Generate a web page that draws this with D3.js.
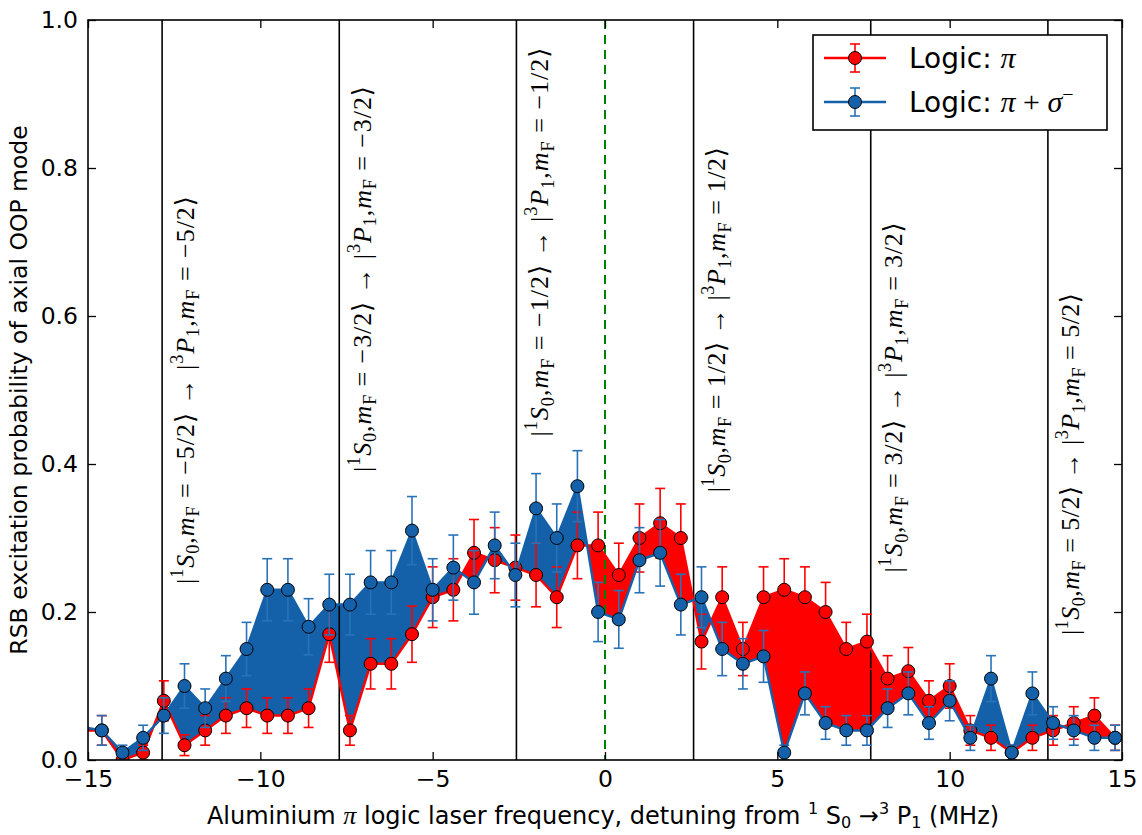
<!DOCTYPE html>
<html>
<head>
<meta charset="utf-8">
<script src="https://cdn.jsdelivr.net/npm/d3@7"></script>
<style>
  html, body { margin: 0; padding: 0; background: #fff; }
  svg { display: block; }
</style>
</head>
<body>
<script>
// ---------------- data ----------------
const xs = [-15.2,-14.6,-14.0,-13.4,-12.8,-12.2,-11.6,-11.0,-10.4,-9.8,-9.2,-8.6,-8.0,-7.4,-6.8,-6.2,-5.6,-5.0,-4.4,-3.8,-3.2,-2.6,-2.0,-1.4,-0.8,-0.2,0.4,1.0,1.6,2.2,2.8,3.4,4.0,4.6,5.2,5.8,6.4,7.0,7.6,8.2,8.8,9.4,10.0,10.6,11.2,11.8,12.4,13.0,13.6,14.2,14.8];
const piVals = [0.04,0.04,0.00,0.01,0.08,0.02,0.04,0.06,0.07,0.06,0.06,0.07,0.17,0.04,0.13,0.13,0.17,0.22,0.23,0.28,0.27,0.26,0.25,0.22,0.29,0.29,0.25,0.30,0.32,0.30,0.16,0.22,0.15,0.22,0.23,0.22,0.20,0.15,0.16,0.11,0.12,0.08,0.10,0.04,0.03,0.01,0.03,0.04,0.05,0.06,0.03];
const piErr = [0.020,0.020,0.000,0.010,0.027,0.014,0.020,0.024,0.026,0.024,0.024,0.026,0.038,0.020,0.034,0.034,0.038,0.041,0.042,0.045,0.044,0.044,0.043,0.041,0.045,0.045,0.043,0.046,0.047,0.046,0.037,0.041,0.036,0.041,0.042,0.041,0.040,0.036,0.037,0.031,0.032,0.027,0.030,0.020,0.017,0.010,0.017,0.020,0.022,0.024,0.017];
const sigVals = [0.045,0.04,0.01,0.03,0.06,0.10,0.07,0.11,0.15,0.23,0.23,0.18,0.21,0.21,0.24,0.24,0.31,0.23,0.26,0.24,0.29,0.25,0.34,0.30,0.37,0.20,0.19,0.27,0.28,0.21,0.22,0.15,0.13,0.14,0.01,0.09,0.05,0.04,0.04,0.07,0.09,0.05,0.08,0.03,0.11,0.01,0.09,0.05,0.04,0.03,0.03];
const sigErr = [0.021,0.020,0.010,0.017,0.024,0.030,0.026,0.031,0.036,0.042,0.042,0.038,0.041,0.041,0.043,0.043,0.046,0.042,0.044,0.043,0.045,0.043,0.047,0.046,0.048,0.040,0.039,0.044,0.045,0.041,0.041,0.036,0.034,0.035,0.010,0.029,0.022,0.020,0.020,0.026,0.029,0.022,0.027,0.017,0.031,0.010,0.029,0.022,0.020,0.017,0.017];

const transitions = [-12.85,-7.71,-2.57,2.57,7.71,12.85];
const transMF = ["−5/2","−3/2","−1/2","1/2","3/2","5/2"];
const transLabelY = [0.50,0.65,0.70,0.595,0.49,0.40];
const transLabelLen = [388,386,389,345,350,342];

const xTicks = [-15,-10,-5,0,5,10,15];
const yTicks = [0,0.2,0.4,0.6,0.8,1.0];
const seriesNames = ["Logic: ", "Logic: "];

// ---------------- layout ----------------
const W = 1142, H = 835;
const PL = 88, PR = 1122, PT = 20, PB = 760;
const RED = "#ff0000", BLUE = "#1461aa", BLUE_ERR = "#2a72b8";
const SANS = "'DejaVu Sans', sans-serif";
const SERIF = "'Liberation Serif', 'DejaVu Serif', serif";

const x = d3.scaleLinear().domain([-15, 15]).range([PL, PR]);
const y = d3.scaleLinear().domain([0, 1]).range([PB, PT]);

const svg = d3.select("body").append("svg").attr("width", W).attr("height", H);
const defs = svg.append("defs");
defs.append("clipPath").attr("id", "plotClip")
  .append("rect").attr("x", PL).attr("y", PT).attr("width", PR - PL).attr("height", PB - PT);

const data = xs.map((v, i) => ({x: v, r: piVals[i], re: piErr[i], b: sigVals[i], be: sigErr[i]}));

defs.append("clipPath").attr("id", "aboveRed").append("path")
  .attr("d", d3.area().x(d => x(d.x)).y0(d => y(d.r)).y1(PT - 50)(data));
defs.append("clipPath").attr("id", "belowRed").append("path")
  .attr("d", d3.area().x(d => x(d.x)).y0(d => y(d.r)).y1(PB + 50)(data));

const plot = svg.append("g").attr("clip-path", "url(#plotClip)");

const between = d3.area().x(d => x(d.x)).y0(d => y(d.r)).y1(d => y(d.b));
plot.append("g").attr("clip-path", "url(#aboveRed)")
  .append("path").attr("d", between(data)).attr("fill", BLUE).attr("stroke", "none");
plot.append("g").attr("clip-path", "url(#belowRed)")
  .append("path").attr("d", between(data)).attr("fill", RED).attr("stroke", "none");

plot.selectAll("line.trans").data(transitions).join("line").attr("class", "trans")
  .attr("x1", d => x(d)).attr("x2", d => x(d)).attr("y1", PT).attr("y2", PB)
  .attr("stroke", "#000").attr("stroke-width", 1.6);

plot.append("line").attr("x1", x(0)).attr("x2", x(0)).attr("y1", PT).attr("y2", PB)
  .attr("stroke", "#008000").attr("stroke-width", 2).attr("stroke-dasharray", "9,6");

function drawSeries(key, errKey, color, errColor) {
  const g = plot.append("g");
  const cap = 5;
  const eb = g.append("g").attr("stroke", errColor).attr("stroke-width", 1.6);
  data.forEach(d => {
    const y0 = y(d[key] - d[errKey]), y1 = y(d[key] + d[errKey]), cx = x(d.x);
    eb.append("line").attr("x1", cx).attr("x2", cx).attr("y1", y0).attr("y2", y1);
    eb.append("line").attr("x1", cx - cap).attr("x2", cx + cap).attr("y1", y0).attr("y2", y0);
    eb.append("line").attr("x1", cx - cap).attr("x2", cx + cap).attr("y1", y1).attr("y2", y1);
  });
  g.append("path").attr("d", d3.line().x(d => x(d.x)).y(d => y(d[key]))(data))
    .attr("fill", "none").attr("stroke", color).attr("stroke-width", 2.5).attr("stroke-linejoin", "round");
  g.selectAll("circle").data(data).join("circle")
    .attr("cx", d => x(d.x)).attr("cy", d => y(d[key])).attr("r", 6.5)
    .attr("fill", color).attr("stroke", "#000").attr("stroke-width", 1);
}
drawSeries("r", "re", RED, RED);
drawSeries("b", "be", BLUE, BLUE_ERR);

// ---------------- rotated transition labels ----------------
function addMath(textSel, parts, baseSize) {
  let cur = 0;
  parts.forEach(([t, kind]) => {
    let shift = 0, size = baseSize, style = "normal";
    if (kind === "i") style = "italic";
    if (kind === "sup") { shift = -0.42 * baseSize; size = 0.7 * baseSize; }
    if (kind === "sub") { shift = 0.22 * baseSize; size = 0.7 * baseSize; }
    const ts = textSel.append("tspan").text(t)
      .attr("font-size", size).attr("font-style", style);
    if (shift - cur !== 0) ts.attr("dy", shift - cur);
    cur = shift;
  });
}
function transParts(mf) {
  return [["|","r"],["1","sup"],["S","i"],["0","sub"],[",","r"],["m","i"],["F","sub"],[" = ","r"],[mf + "⟩","r"],
          [" → ","r"],["|","r"],["3","sup"],["P","i"],["1","sub"],[",","r"],["m","i"],["F","sub"],[" = ","r"],[mf + "⟩","r"]];
}
const labG = svg.append("g");
transitions.forEach((t, i) => {
  const tx = x(t + 0.75), ty = y(transLabelY[i]);
  const txt = labG.append("text")
    .attr("transform", `translate(${tx},${ty}) rotate(-90)`)
    .attr("text-anchor", "middle").attr("font-family", SERIF).attr("fill", "#000")
    .attr("dy", "0.35em");
  addMath(txt, transParts(transMF[i]), 26);
  txt.attr("textLength", transLabelLen[i]).attr("lengthAdjust", "spacing");
});

// ---------------- axes ----------------
const axG = svg.append("g").attr("font-family", SANS);
const fmtX = d3.format("d"), fmtY = d3.format(".1f");
const axBottom = axG.append("g").attr("transform", `translate(0,${PB})`)
  .call(d3.axisBottom(x).tickValues(xTicks).tickFormat(fmtX).tickSizeInner(-8).tickSizeOuter(0).tickPadding(10));
const axTop = axG.append("g").attr("transform", `translate(0,${PT})`)
  .call(d3.axisTop(x).tickValues(xTicks).tickFormat("").tickSizeInner(-8).tickSizeOuter(0));
const axLeft = axG.append("g").attr("transform", `translate(${PL},0)`)
  .call(d3.axisLeft(y).tickValues(yTicks).tickFormat(fmtY).tickSizeInner(-8).tickSizeOuter(0).tickPadding(10));
const axRight = axG.append("g").attr("transform", `translate(${PR},0)`)
  .call(d3.axisRight(y).tickValues(yTicks).tickFormat("").tickSizeInner(-8).tickSizeOuter(0));
[axBottom, axTop, axLeft, axRight].forEach(a => {
  a.select(".domain").remove();
  a.selectAll(".tick line").attr("stroke", "#000").attr("stroke-width", 1.3);
  a.selectAll(".tick text").attr("font-size", 23.5).attr("font-family", SANS).attr("fill", "#000");
});

svg.append("rect").attr("x", PL).attr("y", PT).attr("width", PR - PL).attr("height", PB - PT)
  .attr("fill", "none").attr("stroke", "#000").attr("stroke-width", 1.6);

// axis labels
const xl = svg.append("text").attr("x", 603).attr("y", 824)
  .attr("text-anchor", "middle").attr("font-family", SANS).attr("font-size", 24).attr("fill", "#000");
xl.append("tspan").text("Aluminium ");
xl.append("tspan").text("π").attr("font-family", SERIF).attr("font-style", "italic").attr("font-size", 26);
xl.append("tspan").text(" logic laser frequency, detuning from ");
xl.append("tspan").text("1").attr("font-size", 16).attr("dy", -10);
xl.append("tspan").text(" S").attr("dy", 10);
xl.append("tspan").text("0").attr("font-size", 16).attr("dy", 4);
xl.append("tspan").text(" →").attr("dy", -4);
xl.append("tspan").text("3").attr("font-size", 16).attr("dy", -10);
xl.append("tspan").text(" P").attr("dy", 10);
xl.append("tspan").text("1").attr("font-size", 16).attr("dy", 4);
xl.append("tspan").text(" (MHz)").attr("dy", -4);

svg.append("text").attr("transform", `translate(27,${(PT + PB) / 2}) rotate(-90)`)
  .attr("text-anchor", "middle").attr("font-family", SANS).attr("font-size", 23.5).attr("fill", "#000")
  .text("RSB excitation probability of axial OOP mode");

// ---------------- legend ----------------
const lg = svg.append("g");
lg.append("rect").attr("x", 813).attr("y", 35).attr("width", 294).attr("height", 95)
  .attr("fill", "#fff").attr("stroke", "#000").attr("stroke-width", 1.6);
const legendItems = [
  {color: RED, err: RED, yy: 58, math: [["π","i"]]},
  {color: BLUE, err: BLUE_ERR, yy: 102, math: [["π","i"],[" + ","r"],["σ","i"],["−","sup"]]}
];
legendItems.forEach((it, i) => {
  const g = lg.append("g");
  g.append("line").attr("x1", 824).attr("x2", 886).attr("y1", it.yy).attr("y2", it.yy)
    .attr("stroke", it.color).attr("stroke-width", 2.5);
  g.append("line").attr("x1", 855).attr("x2", 855).attr("y1", it.yy - 14).attr("y2", it.yy + 14)
    .attr("stroke", it.err).attr("stroke-width", 1.6);
  [-14, 14].forEach(o => g.append("line").attr("x1", 850).attr("x2", 860)
    .attr("y1", it.yy + o).attr("y2", it.yy + o).attr("stroke", it.err).attr("stroke-width", 1.6));
  g.append("circle").attr("cx", 855).attr("cy", it.yy).attr("r", 6.5)
    .attr("fill", it.color).attr("stroke", "#000").attr("stroke-width", 1);
  const t = g.append("text").attr("x", 909).attr("y", it.yy + 10)
    .attr("font-family", SANS).attr("font-size", 28).attr("fill", "#000");
  t.append("tspan").text(seriesNames[i]);
  const m = t.append("tspan").attr("font-family", SERIF);
  let cur = 0;
  it.math.forEach(([s, k]) => {
    const sh = k === "sup" ? -11 : 0;
    const ts = m.append("tspan").text(s).attr("font-style", k === "i" ? "italic" : "normal")
      .attr("font-size", k === "sup" ? 20 : 30);
    if (sh - cur) ts.attr("dy", sh - cur);
    cur = sh;
  });
});
</script>
</body>
</html>
